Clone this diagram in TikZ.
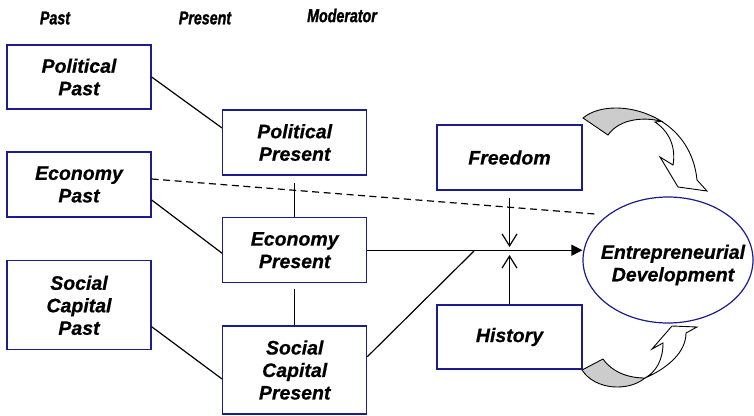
\documentclass[tikz,border=0pt]{standalone}
\usepackage{fontspec}
\setmainfont[BoldItalicFeatures={FakeBold=0.6}]{Liberation Sans}
\newfontfamily\hdrfont[BoldItalicFeatures={FakeBold=1.5}]{Liberation Sans}
\usetikzlibrary{arrows.meta,shapes.geometric,calc}
\definecolor{boxblue}{RGB}{28,28,140}
\definecolor{arrowgray}{RGB}{204,204,204}
\newcommand\hdrtxt[1]{\scalebox{0.77}[1]{\hdrfont\fontsize{18.5}{20}\selectfont\bfseries\itshape #1}}
\begin{document}
\begin{tikzpicture}[x=1pt,y=-1pt,
  stepbox/.style={draw=boxblue, line width=1.3pt, minimum width=144pt, inner sep=0pt,
    align=center, font=\fontsize{19.5}{22.5}\selectfont\bfseries\itshape},
  hdr/.style={inner sep=0pt},
  conn/.style={line width=1.2pt, black},
  barb/.style={-{Straight Barb[length=12pt,width=15pt]}},
  bigarrow/.style={line width=0.9pt, draw=black, line join=miter}]
\useasboundingbox (0,0) rectangle (754,415);

% headers
\node[hdr] (hpast) at (55,18) {\hdrtxt{Past}};
\node[hdr] (hpres) at (205,18) {\hdrtxt{Present}};
\node[hdr] (hmod) at (342,15.5) {\hdrtxt{Moderator}};

% boxes
\node[stepbox, minimum height=64pt] (pp) at (79,77) {Political\\Past};
\node[stepbox, minimum height=65pt] (ep) at (79,184.5) {Economy\\Past};
\node[stepbox, minimum height=89pt] (sp) at (79,305.3) {Social\\Capital\\Past};
\node[stepbox, minimum height=65pt] (ppr) at (294.7,142.5) {Political\\Present};
\node[stepbox, minimum height=65pt] (epr) at (294.7,250.2) {Economy\\Present};
\node[stepbox, minimum height=88pt] (spr) at (294.7,370) {Social\\Capital\\Present};
\node[stepbox, minimum height=65pt, minimum width=145pt] (fr) at (509.5,157.5) {Freedom};
\node[stepbox, minimum height=64pt, minimum width=145pt] (hi) at (509.5,337) {History};

% ellipse
\node[ellipse, draw=boxblue, line width=1.2pt, minimum width=170pt, minimum height=126pt, inner sep=0pt] (ed) at (668,260) {};
\node[font=\fontsize{19.5}{22.5}\selectfont\bfseries\itshape, align=center, inner sep=0pt] (edt) at (673,265) {Entrepreneurial\\Development};

% helper coordinates
\coordinate (dend) at (595,214);
\coordinate (join) at (474,251);
\coordinate (ftip) at (509.5,247);
\coordinate (htip) at (509.5,255);

% connectors
\draw[conn] (pp.east) -- ([yshift=14.5pt]ppr.west);
\draw[conn] ([yshift=-15.5pt]ep.east) -- ([yshift=-3pt]epr.west);
\draw[conn] ([yshift=-21.4pt]sp.east) -- ([yshift=-9pt]spr.west);
\draw[conn, dash pattern=on 7pt off 4.5pt] ([yshift=5.5pt]ep.east) -- (dend);
\draw[conn, shorten <=7pt] (ppr.south) -- (epr.north);
\draw[conn, shorten <=6pt] (epr.south) -- (spr.north);
\draw[conn, -{Triangle[length=11pt,width=11pt]}] (epr.east) -- (epr.east -| ed.west);
\draw[conn] ([yshift=13.3pt]spr.east) -- (join);
\draw[conn, barb, shorten <=7pt] (fr.south) -- (ftip);
\draw[conn, barb] (hi.north) -- (htip);

% top curved arrow
\filldraw[bigarrow, fill=white] (661.5,121.3) .. controls (679.7,132.8) and (694.2,152) .. (697,180)
  -- (707,191) -- (678,187) -- (660,157) -- (673,165)
  .. controls (676,148) and (670,132) .. (655,122) -- cycle;
\filldraw[bigarrow, fill=arrowgray] (583,118) .. controls (599.2,104.2) and (634.2,104.1) .. (661.5,121.3)
  .. controls (645,117) and (620,118) .. (608,135) -- cycle;

% bottom curved arrow
\filldraw[bigarrow, fill=white] (645,378) .. controls (668,368) and (686,352) .. (686,333)
  -- (697,327) -- (672,326) -- (652,349) -- (663,343)
  .. controls (663,360) and (656,372) .. (645,378) -- cycle;
\filldraw[bigarrow, fill=arrowgray] (582,370) .. controls (595,390) and (628,392) .. (645,378)
  .. controls (628,378) and (612,372) .. (603,359) -- cycle;
\end{tikzpicture}
\end{document}
